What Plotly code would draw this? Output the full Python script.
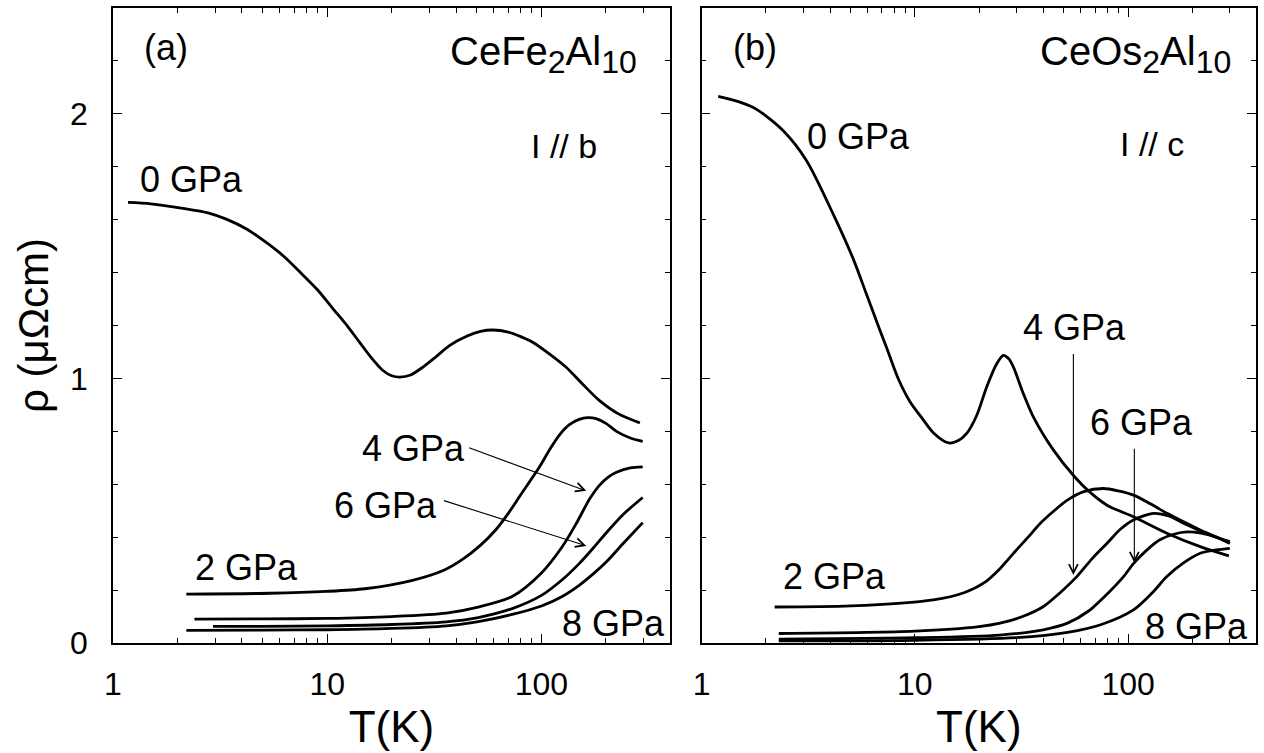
import numpy as np
import plotly.graph_objects as go

# ---------------- data ----------------
# Panel (a): CeFe2Al10, I // b
a_T_0 = [1.175, 1.5, 2.12, 2.8, 3.38, 4.2, 5.19, 6.3, 7.5, 9.0, 10.6, 12.5, 14.2, 16, 18.2, 20, 21.8,
         24.5, 28, 32, 37.2, 45, 52, 59.3, 70, 80, 91, 110, 130, 155, 186, 230, 288]
a_r_0 = [1.665, 1.66, 1.643, 1.625, 1.602, 1.565, 1.514, 1.46, 1.40, 1.335, 1.265, 1.195, 1.135, 1.08,
         1.03, 1.010, 1.005, 1.013, 1.043, 1.08, 1.124, 1.16, 1.178, 1.183, 1.175, 1.158, 1.137, 1.09,
         1.043, 0.98, 0.917, 0.865, 0.832]
a_T_2 = [2.2, 5.4, 9.9, 15, 25, 35, 42.8, 52, 61.1, 70, 80, 98, 110, 121, 135, 150, 164, 180, 200, 224,
         260, 297]
a_r_2 = [0.185, 0.188, 0.195, 0.205, 0.237, 0.275, 0.316, 0.37, 0.427, 0.49, 0.56, 0.666, 0.735, 0.785,
         0.825, 0.845, 0.852, 0.848, 0.83, 0.80, 0.775, 0.762]
a_T_4 = [2.4, 5, 10, 20, 36, 50, 73, 100, 125, 145, 168, 186, 205, 224, 260, 297]
a_r_4 = [0.090, 0.091, 0.093, 0.10, 0.113, 0.135, 0.176, 0.265, 0.364, 0.45, 0.545, 0.595, 0.627, 0.645,
         0.662, 0.666]
a_T_6 = [2.93, 5, 10, 20, 36, 50, 73, 100, 125, 150, 175, 200, 240, 297]
a_r_6 = [0.063, 0.063, 0.065, 0.07, 0.08, 0.095, 0.13, 0.18, 0.239, 0.30, 0.36, 0.415, 0.485, 0.55]
a_T_8 = [2.2, 5, 10, 20, 36, 50, 73, 100, 125, 150, 175, 200, 240, 297]
a_r_8 = [0.048, 0.049, 0.05, 0.055, 0.065, 0.08, 0.108, 0.14, 0.176, 0.218, 0.262, 0.305, 0.375, 0.455]

# Panel (b): CeOs2Al10, I // c
b_T_0 = [1.196, 1.5, 1.81, 2.42, 3.11, 4.14, 5.15, 5.95, 6.8, 7.38, 8.4, 9.49, 10.8, 12.2, 14.4, 16,
         17.5, 19.5, 21.7, 24, 26, 27.5, 29, 32, 36, 44.7, 55.6, 66, 80, 106, 152, 218, 297]
b_r_0 = [2.066, 2.045, 2.017, 1.935, 1.822, 1.621, 1.45, 1.315, 1.19, 1.115, 0.995, 0.912, 0.85, 0.795,
         0.756, 0.765, 0.792, 0.86, 0.967, 1.05, 1.087, 1.075, 1.043, 0.95, 0.854, 0.729, 0.632, 0.571,
         0.52, 0.477, 0.415, 0.364, 0.329]
b_T_2 = [2.2, 5, 12.2, 17, 21, 25, 29, 34, 38.7, 45, 51.9, 62, 76.5, 90, 106, 128, 152, 180, 218, 260, 300]
b_r_2 = [0.136, 0.14, 0.163, 0.19, 0.226, 0.28, 0.339, 0.40, 0.452, 0.50, 0.54, 0.572, 0.584, 0.575,
         0.559, 0.525, 0.49, 0.46, 0.427, 0.40, 0.377]
b_T_4 = [2.3, 10, 20, 25.1, 32, 40.1, 48, 57.5, 68, 79.7, 92, 106, 132, 155, 183, 230, 300]
b_r_4 = [0.036, 0.045, 0.062, 0.075, 0.10, 0.138, 0.19, 0.251, 0.32, 0.377, 0.43, 0.465, 0.49, 0.48,
         0.452, 0.415, 0.383]
b_T_6 = [2.3, 10, 25, 40, 52, 65, 82, 95, 106, 122, 141, 165, 190, 220, 260, 300]
b_r_6 = [0.015, 0.02, 0.03, 0.05, 0.075, 0.12, 0.195, 0.25, 0.30, 0.35, 0.39, 0.412, 0.42, 0.415, 0.40, 0.377]
b_T_8 = [2.3, 10, 30, 52, 75, 106, 130, 152, 180, 218, 260, 300]
b_r_8 = [0.008, 0.01, 0.02, 0.04, 0.07, 0.125, 0.19, 0.251, 0.30, 0.339, 0.352, 0.358]

x_ticks = [1, 10, 100]
x_minor = [2, 3, 4, 5, 6, 7, 8, 9, 20, 30, 40, 50, 60, 70, 80, 90, 200, 300]
y_ticks = [0, 1, 2]

# labels: (text, T, rho)
a_labels = [("0 GPa", 2.33, 1.75), ("2 GPa", 4.22, 0.284), ("4 GPa", 25.3, 0.736),
            ("6 GPa", 18.8, 0.521), ("8 GPa", 217, 0.073)]
b_labels = [("0 GPa", 5.42, 1.916), ("2 GPa", 4.19, 0.253), ("4 GPa", 56.0, 1.192),
            ("6 GPa", 115.6, 0.834), ("8 GPa", 209, 0.062)]
# arrows: (tail T, tail rho, head T, head rho)
a_arrows = [(45.2, 0.740, 162, 0.575), (34.5, 0.540, 162, 0.367)]
b_arrows = [(55.4, 1.098, 55.4, 0.257), (107, 0.740, 107, 0.303)]

FONT = "Liberation Sans, Arial, Helvetica, sans-serif"

fig = go.Figure()
LW = 2.8
for T, r in [(a_T_0, a_r_0), (a_T_2, a_r_2), (a_T_4, a_r_4), (a_T_6, a_r_6), (a_T_8, a_r_8)]:
    fig.add_trace(go.Scatter(x=T, y=r, mode="lines",
                             line=dict(color="black", width=LW, shape="spline", smoothing=0.8),
                             xaxis="x", yaxis="y", showlegend=False))
for T, r in [(b_T_0, b_r_0), (b_T_2, b_r_2), (b_T_4, b_r_4), (b_T_6, b_r_6), (b_T_8, b_r_8)]:
    fig.add_trace(go.Scatter(x=T, y=r, mode="lines",
                             line=dict(color="black", width=LW, shape="spline", smoothing=0.8),
                             xaxis="x2", yaxis="y2", showlegend=False))

xcommon = dict(type="log", range=[0, 2.6], tickvals=x_ticks, ticktext=[str(v) for v in x_ticks],
               ticks="inside", ticklen=9, tickwidth=1.3, tickcolor="black",
               minor=dict(tickvals=x_minor, ticks="inside", ticklen=5, tickwidth=1.2, tickcolor="black",
                          showgrid=False),
               showline=True, linecolor="black", linewidth=1.6, mirror="ticks",
               showgrid=False, zeroline=False,
               tickfont=dict(family=FONT, size=32, color="black"), ticklabelstandoff=12,
               title=dict(text="T(K)", font=dict(family=FONT, size=44, color="black"), standoff=10))
ycommon = dict(range=[0, 2.4], tickvals=y_ticks, ticks="inside", ticklen=9, tickwidth=1.3,
               tickcolor="black",
               minor=dict(dtick=0.2, ticks="inside", ticklen=5, tickwidth=1.2, tickcolor="black",
                          showgrid=False),
               showline=True, linecolor="black", linewidth=1.6, mirror="ticks",
               showgrid=False, zeroline=False,
               tickfont=dict(family=FONT, size=32, color="black"), ticklabelstandoff=17)

fig.update_layout(
    width=1264, height=753,
    margin=dict(l=113, r=8, t=6, b=110),
    paper_bgcolor="white", plot_bgcolor="white",
    font=dict(family=FONT, color="black"),
    xaxis=dict(domain=[0, 0.4873], anchor="y", **xcommon),
    yaxis=dict(domain=[0, 1], anchor="x",
               title=dict(text="ρ (μΩcm)", font=dict(family=FONT, size=42, color="black"), standoff=8),
               **ycommon),
    xaxis2=dict(domain=[0.515, 1], anchor="y2", **xcommon),
    yaxis2=dict(domain=[0, 1], anchor="x2", showticklabels=False, **ycommon),
)

ann = []
def add_text(text, T, r, xref, yref, size=36, xanchor="center"):
    ann.append(dict(text=text, x=np.log10(T), y=r, xref=xref, yref=yref, showarrow=False,
                    xanchor=xanchor, yanchor="middle", font=dict(family=FONT, size=size, color="black")))

for xr, yr, labels, arrows in [("x", "y", a_labels, a_arrows), ("x2", "y2", b_labels, b_arrows)]:
    for t, T, r in labels:
        add_text(t, T, r, xr, yr)
    for tT, tr, hT, hr in arrows:
        ann.append(dict(x=np.log10(hT), y=hr, ax=np.log10(tT), ay=tr, xref=xr, yref=yr,
                        axref=xr, ayref=yr, text="", showarrow=True, arrowhead=5, arrowsize=1.6,
                        arrowwidth=1.1, arrowcolor="black"))

SUB = '<sub><span style="font-size:32px">{}</span></sub>'
add_text("(a)", 1.766, 2.25, "x", "y", size=36)
add_text("(b)", 1.778, 2.25, "x2", "y2", size=36)
add_text("CeFe" + SUB.format("2") + "Al" + SUB.format("10"), 285, 2.225, "x", "y", size=40, xanchor="right")
add_text("CeOs" + SUB.format("2") + "Al" + SUB.format("10"), 310, 2.225, "x2", "y2", size=40, xanchor="right")
add_text("I // b", 128, 1.88, "x", "y", size=34)
add_text("I // c", 130, 1.885, "x2", "y2", size=34)

fig.update_layout(annotations=ann)
fig.write_html("out.html", config={"displayModeBar": False},
               post_script="document.body.style.margin='0px';")
